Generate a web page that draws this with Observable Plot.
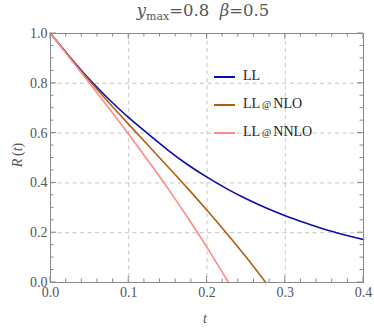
<!DOCTYPE html>
<html>
<head>
<meta charset="utf-8">
<script src="https://cdn.jsdelivr.net/npm/d3@7"></script>
<script src="https://cdn.jsdelivr.net/npm/@observablehq/plot@0.6"></script>
<style>
  html, body { margin: 0; padding: 0; background: #fff; }
  #wrap { position: relative; width: 374px; height: 332px; font-family: "Liberation Serif"; }
  #wrap svg { position: absolute; left: 0; top: 0; }
  .ov { position: absolute; white-space: nowrap; }
  .title { left: 0; width: 406px; top: 1px; text-align: center; font-size: 16.5px; color: #555; font-family: "DejaVu Serif"; }
  .xlab { left: 0; width: 410px; top: 311px; text-align: center; font-size: 14px; color: #555; font-style: italic; font-family: "Times New Roman"; }
  .ylab { left: 18px; top: 155px; font-size: 14px; color: #555; transform: translate(-50%, -50%) rotate(-90deg); font-family: Tinos; }
  .leg { font-size: 14px; color: #222; font-family: "Liberation Serif"; }
  .leg .row { position: absolute; left: 0; height: 16px; }
  .leg .sw { position: absolute; left: 0; top: 7px; width: 21px; height: 0; border-top: 2px solid; }
  .leg .tx { position: absolute; left: 29px; top: -1px; }
  .at { font-size: 10px; }
</style>
</head>
<body>
<div id="wrap"></div>
<script>
// ---- data ----
const seriesNames = ["LL", "LL@NLO", "LL@NNLO"];
const seriesColors = ["#0b0baf", "#b0600c", "#ff8a8a"];

const tLL  = [0, 0.025, 0.05, 0.075, 0.1, 0.125, 0.15, 0.175, 0.2, 0.225, 0.25, 0.275, 0.3, 0.325, 0.35, 0.375, 0.4];
const rLL  = [1, 0.905, 0.815, 0.735, 0.662, 0.596, 0.532, 0.474, 0.423, 0.377, 0.336, 0.300, 0.268, 0.240, 0.214, 0.192, 0.172];

const tNLO = [0, 0.025, 0.05, 0.075, 0.1, 0.125, 0.15, 0.175, 0.2, 0.225, 0.25, 0.275];
const rNLO = [1, 0.903, 0.810, 0.721, 0.635, 0.550, 0.465, 0.379, 0.290, 0.198, 0.102, 0];

const tNNLO = [0, 0.025, 0.05, 0.075, 0.1, 0.125, 0.15, 0.175, 0.2, 0.2275];
const rNNLO = [1, 0.900, 0.800, 0.699, 0.595, 0.488, 0.378, 0.262, 0.141, 0];

const xMajor = [0, 0.1, 0.2, 0.3, 0.4];
const yMajor = [0, 0.2, 0.4, 0.6, 0.8, 1.0];
const xGrid = [0.1, 0.2, 0.3];
const yGrid = [0.2, 0.4, 0.6, 0.8];
const xMinor = d3.range(0, 0.4001, 0.02).map(v => +v.toFixed(2));
const yMinor = d3.range(0, 1.0001, 0.05).map(v => +v.toFixed(2));

const rows = [];
[[tLL, rLL], [tNLO, rNLO], [tNNLO, rNNLO]].forEach(([ts, rs], i) => {
  ts.forEach((t, j) => rows.push({series: seriesNames[i], t, r: rs[j]}));
});

const serif = "Liberation Serif";
const gridStyle = {stroke: "#c4c4c4", strokeWidth: 1, strokeDasharray: "4,3.5"};

const plot = Plot.plot({
  width: 374,
  height: 332,
  marginTop: 33,
  marginLeft: 50,
  marginRight: 11,
  marginBottom: 50,
  style: {fontSize: "14px", color: "#555", background: "#fff"},
  x: {domain: [0, 0.4]},
  y: {domain: [0, 1]},
  color: {domain: seriesNames, range: seriesColors},
  marks: [
    Plot.ruleX(xGrid, {x: d => d, ...gridStyle}),
    Plot.ruleY(yGrid, {y: d => d, ...gridStyle}),
    Plot.line(rows, {x: "t", y: "r", z: "series", stroke: "series", strokeWidth: 1.6, curve: "natural"}),
    Plot.frame({stroke: "#8a8a8a", strokeWidth: 1}),
    Plot.axisX(xMajor, {anchor: "bottom", tickSize: 0, tickPadding: 5, tickFormat: d3.format(".1f"), label: null, fill: "#555", fontSize: 14}),
    Plot.axisY(yMajor, {anchor: "left", tickSize: 0, tickPadding: 3, tickFormat: d3.format(".1f"), label: null, fill: "#555", fontSize: 14})
  ]
});
plot.querySelectorAll("text").forEach(t => t.setAttribute("font-family", serif));
plot.querySelectorAll("g[aria-label$='axis tick label']").forEach(t => t.setAttribute("font-family", serif));
plot.style.fontFamily = serif;

// inward ticks drawn with the plot's own scales
const sx = plot.scale("x"), sy = plot.scale("y");
const X0 = sx.apply(0), X1 = sx.apply(0.4), Y0 = sy.apply(0), Y1 = sy.apply(1);
const g = d3.select(plot).append("g").attr("stroke", "#8a8a8a").attr("stroke-width", 1);
xMinor.forEach(v => {
  const major = xMajor.some(m => Math.abs(m - v) < 1e-9);
  const L = major ? 6 : 3.5;
  const x = sx.apply(v);
  g.append("line").attr("x1", x).attr("x2", x).attr("y1", Y0).attr("y2", Y0 - L);
  g.append("line").attr("x1", x).attr("x2", x).attr("y1", Y1).attr("y2", Y1 + L);
});
yMinor.forEach(v => {
  const major = yMajor.some(m => Math.abs(m - v) < 1e-9);
  const L = major ? 6 : 3.5;
  const y = sy.apply(v);
  g.append("line").attr("y1", y).attr("y2", y).attr("x1", X0).attr("x2", X0 + L);
  g.append("line").attr("y1", y).attr("y2", y).attr("x1", X1).attr("x2", X1 - L);
});

const wrap = document.getElementById("wrap");
wrap.appendChild(plot);

// title and axis labels
const title = document.createElement("div");
title.className = "ov title";
title.innerHTML = '<i>y</i><sub style="font-size:11px">max</sub>=0.8&nbsp;&nbsp;<i>β</i>=0.5';
wrap.appendChild(title);

const xl = document.createElement("div");
xl.className = "ov xlab";
xl.textContent = "t";
wrap.appendChild(xl);

const yl = document.createElement("div");
yl.className = "ov ylab";
yl.innerHTML = '<i>R</i>&#8201;(<i>t</i>)';
wrap.appendChild(yl);

// legend
const leg = document.createElement("div");
leg.className = "ov leg";
leg.style.left = "214px";
leg.style.top = "69px";
leg.style.width = "150px";
leg.style.height = "80px";
seriesNames.forEach((name, i) => {
  const row = document.createElement("div");
  row.className = "row";
  row.style.top = (i * 28) + "px";
  const sw = document.createElement("div");
  sw.className = "sw";
  sw.style.borderTopColor = seriesColors[i];
  const tx = document.createElement("div");
  tx.className = "tx";
  tx.innerHTML = name.replace("@", '<span class="at">&#8201;@&#8201;</span>');
  row.appendChild(sw); row.appendChild(tx);
  leg.appendChild(row);
});
wrap.appendChild(leg);
</script>
</body>
</html>
